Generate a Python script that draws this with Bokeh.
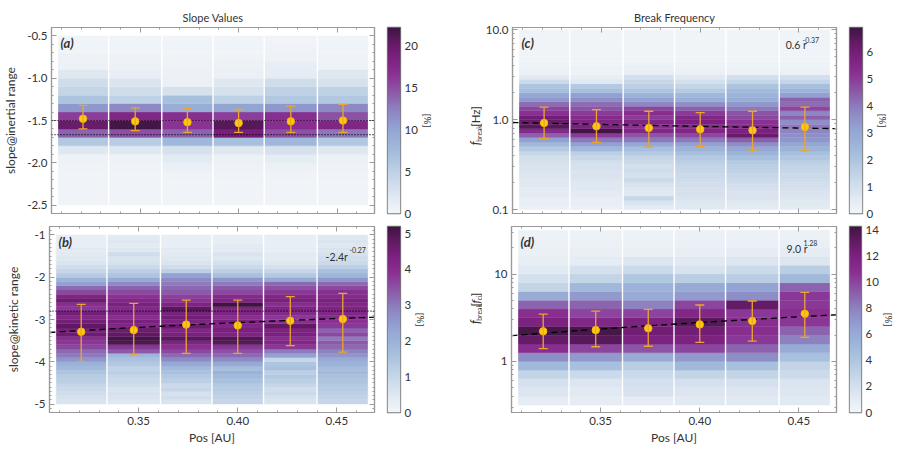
import numpy as np
from bokeh.core.properties import value
from bokeh.embed import file_html
from bokeh.layouts import column, row
from bokeh.models import (ColumnDataSource, FixedTicker, Label, LinearAxis, LinearColorMapper,
                          LogAxis, PrintfTickFormatter, Range1d, Span, TeeHead, Whisker)
from bokeh.plotting import figure
from bokeh.resources import INLINE

# ---------------------------------------------------------------- data
# radial distance bins [AU]
pos_edges = [0.308, 0.334, 0.361, 0.387, 0.413, 0.440, 0.466]

# (a) spectral slope in the inertial range, occurrence [%] per slope bin (bottom -> top)
inertial_edges = [round(-2.5 + 0.1 * k, 2) for k in range(21)]
inertial_hist = [
    [0.3, 0.3, 0.4, 0.4, 0.5, 0.6, 2.0, 6.0, 14, 20, 16, 11, 6.5, 4.5, 3.5, 2.0, 0.8, 0.6, 0.4, 0.3],
    [0.3, 0.3, 0.3, 0.4, 0.5, 0.6, 2.0, 5.5, 15, 22, 18, 12, 5.0, 3.5, 2.5, 1.2, 0.8, 0.6, 0.4, 0.3],
    [0.3, 0.3, 0.4, 0.5, 1.0, 1.8, 3.0, 8.0, 14, 16.5, 17, 9.0, 7.0, 3.0, 1.0, 0.8, 0.6, 0.5, 0.4, 0.3],
    [0.3, 0.3, 0.4, 0.5, 0.6, 0.8, 2.0, 7.0, 19, 21, 16, 10, 5.0, 3.0, 2.0, 1.0, 0.7, 0.5, 0.4, 0.3],
    [0.3, 0.3, 0.4, 0.5, 0.8, 1.5, 3.0, 8.0, 15, 17, 17, 11, 6.0, 5.0, 3.5, 1.5, 1.4, 0.6, 0.5, 0.4],
    [0.3, 0.3, 0.4, 0.5, 0.6, 0.8, 2.0, 6.0, 13, 18, 15, 12, 6.0, 5.0, 3.0, 2.0, 0.6, 0.5, 0.4, 0.3],
]
inertial_mean = [-1.48, -1.51, -1.52, -1.53, -1.51, -1.50]
inertial_upper = [-1.32, -1.35, -1.36, -1.37, -1.33, -1.31]
inertial_lower = [-1.60, -1.62, -1.64, -1.64, -1.64, -1.64]
inertial_ref = [-1.5, -5 / 3]

# (b) spectral slope in the kinetic range
kinetic_edges = [round(-5.0 + 0.1 * k, 2) for k in range(41)]
kinetic_hist = [
    [0.6, 0.7, 0.8, 0.9, 1.0, 1.2, 1.3, 1.5, 1.8, 2.0, 2.6, 3.0, 3.2, 3.6, 3.8, 4.0, 4.6, 4.4, 4.8, 4.5,
     4.2, 4.5, 3.8, 4.0, 4.6, 4.3, 3.6, 3.2, 2.4, 2.0, 1.3, 1.0, 0.8, 0.6, 0.5, 0.4, 0.4, 0.3, 0.3, 0.3],
    [0.5, 0.6, 0.7, 0.6, 0.8, 0.9, 1.0, 1.2, 1.1, 1.4, 1.6, 1.9, 3.4, 3.8, 5.0, 5.1, 4.8, 4.6, 4.2, 4.4,
     4.0, 4.3, 4.1, 4.4, 4.2, 3.9, 3.6, 3.3, 2.8, 2.2, 1.5, 1.2, 0.9, 0.7, 0.6, 0.8, 0.5, 0.4, 0.5, 0.4],
    [0.6, 0.8, 0.7, 1.0, 0.9, 1.2, 1.4, 1.6, 1.8, 2.2, 2.8, 3.2, 3.6, 3.9, 4.3, 4.9, 4.4, 4.2, 4.6, 4.3,
     4.5, 4.4, 4.9, 4.3, 3.9, 3.7, 3.4, 3.2, 3.0, 2.8, 2.4, 1.2, 0.8, 0.6, 0.5, 0.4, 0.4, 0.3, 0.3, 0.3],
    [1.0, 1.1, 1.2, 1.3, 1.4, 1.6, 1.8, 2.0, 1.7, 2.2, 2.8, 3.2, 3.5, 3.8, 4.9, 5.0, 4.3, 4.4, 4.2, 4.4,
     4.0, 4.3, 4.2, 5.2, 4.3, 4.1, 3.6, 3.4, 3.0, 2.6, 1.6, 1.2, 0.9, 0.7, 0.5, 0.6, 0.4, 0.4, 0.3, 0.3],
    [0.6, 0.7, 0.9, 0.8, 1.0, 1.2, 1.4, 1.2, 1.6, 1.5, 1.0, 2.4, 3.0, 3.8, 4.2, 4.0, 4.4, 4.3, 4.8, 4.0,
     3.8, 4.1, 4.3, 4.0, 4.4, 4.2, 3.8, 3.5, 3.2, 2.2, 1.4, 1.0, 0.7, 0.5, 0.4, 0.4, 0.3, 0.3, 0.3, 0.3],
    [1.0, 1.1, 1.2, 1.3, 1.4, 1.5, 1.6, 1.8, 1.7, 2.0, 2.2, 2.6, 2.9, 3.2, 3.4, 3.0, 3.6, 3.3, 3.8, 3.9,
     4.1, 4.2, 4.3, 4.2, 4.4, 4.1, 4.0, 3.6, 3.2, 2.6, 1.9, 1.6, 1.2, 0.9, 0.8, 0.7, 0.6, 0.5, 0.6, 0.5],
]
kinetic_mean = [-3.29, -3.25, -3.12, -3.14, -3.03, -2.99]
kinetic_upper = [-2.64, -2.62, -2.54, -2.54, -2.46, -2.38]
kinetic_lower = [-3.99, -3.84, -3.80, -3.80, -3.62, -3.77]
kinetic_ref = [-2.8]
kinetic_fit = (-2.4, -0.27)

# (c) break frequency [Hz], bins of 0.05 decades from 0.1 to 10 Hz
fbreak_hz_edges = [10 ** (-1.0 + 0.05 * k) for k in range(41)]
fbreak_hz_hist = [
    [0.3, 0.4, 0.4, 0.5, 0.5, 0.6, 0.6, 0.7, 0.8, 0.8, 0.9, 1.0, 1.3, 1.8, 2.4, 3.2, 4.4, 5.4, 6.5, 6.2,
     6.0, 5.2, 4.8, 4.2, 3.4, 3.0, 2.2, 2.0, 1.2, 0.6, 0.3, 0.2, 0.2, 0.1, 0.1, 0.1, 0.1, 0.1, 0.1, 0.1],
    [0.3, 0.4, 0.4, 0.5, 0.6, 0.6, 0.7, 0.8, 0.8, 0.9, 1.0, 1.3, 1.6, 2.4, 3.2, 4.0, 5.0, 6.8, 5.8, 5.6,
     5.4, 5.0, 4.6, 4.2, 3.6, 3.2, 2.2, 1.8, 0.6, 0.4, 0.2, 0.2, 0.1, 0.1, 0.1, 0.1, 0.1, 0.1, 0.1, 0.1],
    [0.5, 0.8, 1.3, 0.6, 0.7, 0.8, 1.2, 0.9, 1.1, 1.0, 1.2, 1.4, 1.8, 2.2, 3.0, 4.0, 4.6, 5.5, 5.2, 5.6,
     5.0, 5.3, 4.8, 3.8, 3.2, 2.6, 2.0, 1.6, 1.3, 1.0, 0.4, 0.3, 0.2, 0.1, 0.1, 0.1, 0.1, 0.1, 0.1, 0.1],
    [0.6, 0.7, 0.8, 0.9, 0.9, 1.0, 1.1, 1.2, 1.3, 1.4, 1.6, 1.8, 2.2, 2.6, 3.2, 4.0, 4.8, 5.6, 5.4, 5.8,
     5.6, 5.0, 4.4, 3.6, 2.8, 2.4, 1.8, 1.4, 1.0, 0.6, 0.3, 0.2, 0.2, 0.1, 0.1, 0.1, 0.1, 0.1, 0.1, 0.1],
    [0.5, 0.6, 0.8, 0.8, 0.9, 1.0, 1.2, 1.3, 1.5, 1.6, 1.8, 2.2, 2.6, 3.0, 3.6, 4.4, 6.2, 5.8, 5.4, 5.2,
     4.8, 4.6, 4.0, 3.4, 2.8, 2.6, 2.4, 2.0, 1.4, 1.0, 0.3, 0.2, 0.2, 0.1, 0.1, 0.1, 0.1, 0.1, 0.1, 0.1],
    [0.5, 0.6, 0.7, 0.8, 0.9, 1.0, 1.1, 1.2, 1.3, 1.4, 1.6, 1.9, 2.2, 2.6, 3.0, 3.4, 3.6, 3.8, 4.0, 3.6,
     4.4, 3.8, 4.8, 4.2, 4.4, 3.2, 2.6, 2.2, 1.4, 1.0, 0.3, 0.2, 0.2, 0.1, 0.1, 0.1, 0.1, 0.1, 0.1, 0.1],
]
fbreak_hz_mean = [0.918, 0.843, 0.808, 0.781, 0.761, 0.829]
fbreak_hz_upper = [1.38, 1.29, 1.24, 1.20, 1.24, 1.38]
fbreak_hz_lower = [0.615, 0.560, 0.493, 0.506, 0.449, 0.449]
fbreak_hz_fit = (0.6, -0.37)

# (d) break frequency normalised to the proton cyclotron frequency, bins of 0.1 decades
fbreak_fci_edges = [10 ** (-0.5 + 0.1 * k) for k in range(21)]
fbreak_fci_hist = [
    [1.0, 1.5, 2.0, 3.0, 5.0, 7.5, 11.0, 13.0, 14.0, 12.0, 11.0, 9.0, 6.0, 3.0, 2.0, 1.2, 0.8, 0.6, 0.5, 0.4],
    [1.0, 1.2, 1.5, 2.5, 4.5, 7.0, 10.0, 13.5, 14.0, 11.5, 10.0, 9.0, 7.0, 5.0, 3.0, 2.0, 1.0, 0.7, 0.5, 0.4],
    [1.0, 1.8, 2.0, 2.5, 3.5, 6.0, 9.5, 12.0, 12.5, 12.0, 10.0, 8.0, 6.0, 5.5, 4.0, 2.5, 1.5, 0.7, 0.5, 0.4],
    [1.2, 1.5, 2.0, 3.0, 5.0, 7.0, 10.0, 12.0, 12.5, 13.5, 11.5, 10.0, 7.0, 6.0, 3.5, 1.8, 1.2, 0.8, 0.6, 0.5],
    [1.2, 1.5, 2.0, 3.0, 4.5, 7.5, 9.0, 10.5, 11.0, 11.0, 10.5, 13.0, 7.5, 6.5, 3.5, 2.5, 1.5, 1.0, 0.6, 0.5],
    [1.2, 1.4, 1.6, 2.5, 3.0, 4.5, 6.0, 8.0, 9.0, 10.5, 11.0, 10.5, 10.5, 9.0, 5.0, 3.5, 1.5, 1.0, 0.7, 0.5],
]
fbreak_fci_mean = [2.21, 2.28, 2.39, 2.65, 2.90, 3.51]
fbreak_fci_upper = [3.48, 3.77, 3.94, 4.42, 4.91, 6.17]
fbreak_fci_lower = [1.40, 1.47, 1.49, 1.65, 1.71, 1.88]
fbreak_fci_fit = (9.0, 1.28)

# colour-bar limits [%] and ticks
cbar_max = {"a": 22.2, "b": 5.2, "c": 6.9, "d": 14.3}
cbar_ticks = {"a": [0, 5, 10, 15, 20], "b": [0, 1, 2, 3, 4, 5],
              "c": [0, 1, 2, 3, 4, 5, 6], "d": [0, 2, 4, 6, 8, 10, 12, 14]}

# ---------------------------------------------------------------- style
FONT = "Lato"
TEXT = "#333333"
FRAME = "#9a9a9a"
ERR = "#eea62a"
DOT = "#ffc90e"
FW, FH = 325, 186
X_RANGE = (0.305, 0.469)
STRIP_W = 32

cmap_stops = [0.0, 0.08, 0.2, 0.33, 0.45, 0.55, 0.65, 0.75, 0.85, 0.93, 1.0]
cmap_hex = ["#f3f6f9", "#e2eaf2", "#c4d5e7", "#a3bddc", "#93a5d3", "#8d86c3",
            "#8c5ba9", "#8a3193", "#7a207d", "#5e1a60", "#3e1542"]


def build_palette(n=256):
    rgb = np.array([[int(h[i:i + 2], 16) for i in (1, 3, 5)] for h in cmap_hex], float)
    t = np.linspace(0, 1, n)
    chans = [np.interp(t, cmap_stops, rgb[:, c]) for c in range(3)]
    return ["#%02x%02x%02x" % (int(round(r)), int(round(g)), int(round(b))) for r, g, b in zip(*chans)]


PALETTE = build_palette()


def frame_to_data(rng, n_px, pos, log):
    lo, hi = rng
    if log:
        a, b = np.log10(lo), np.log10(hi)
        return float(10 ** (a + pos / n_px * (b - a)))
    return float(lo + pos / n_px * (hi - lo))


def style_axis(ax, ticker, fmt=None, labels=True):
    ax.ticker = ticker
    if fmt is not None:
        ax.formatter = fmt
    ax.major_tick_in = 5
    ax.major_tick_out = 0
    ax.minor_tick_in = 2
    ax.minor_tick_out = 0
    ax.major_tick_line_color = FRAME
    ax.minor_tick_line_color = FRAME
    ax.axis_line_color = FRAME
    ax.axis_line_width = 1.2
    ax.major_label_text_font = FONT
    ax.major_label_text_color = TEXT
    if labels:
        ax.major_label_text_font_size = "11.5px"
        ax.major_label_standoff = 4
    else:
        ax.major_label_text_font_size = "1px"
        ax.major_label_text_alpha = 0
        ax.major_label_standoff = 0


def style_label(ax, text, size="12px", style="normal"):
    ax.axis_label = text
    ax.axis_label_text_font = FONT
    ax.axis_label_text_font_size = size
    ax.axis_label_text_font_style = style
    ax.axis_label_text_color = TEXT


def add_text(p, ylog, text, px, py, size, style="normal"):
    rx, ry = p.x_range, p.y_range
    x = frame_to_data((rx.start, rx.end), FW, px, False)
    y = frame_to_data((ry.start, ry.end), FH, py, ylog)
    p.add_layout(Label(x=x, y=y, text=text, text_font=FONT, text_font_size=size,
                       text_font_style=style, text_color=TEXT,
                       text_align="left", text_baseline="alphabetic", level="overlay"))


def hist_panel(key, title, edges, hist, mean, upper, lower, y_range, ylog, y_major, y_minor, y_fmt,
               top, bottom, left, x_labels):
    mapper = LinearColorMapper(palette=PALETTE, low=0, high=cbar_max[key])
    p = figure(width=left + FW + 7, height=top + FH + bottom,
               x_range=Range1d(*X_RANGE), y_range=Range1d(*y_range),
               y_axis_type="log" if ylog else "linear",
               min_border_left=left, min_border_right=7, min_border_top=top, min_border_bottom=bottom,
               toolbar_location=None, output_backend="svg")
    p.grid.visible = False
    p.outline_line_color = FRAME
    p.outline_line_width = 1.2
    p.background_fill_color = "white"
    p.border_fill_color = "white"
    if title:
        p.title.text = title
        p.title.align = "center"
        p.title.text_font = FONT
        p.title.text_font_size = "11px"
        p.title.text_font_style = "normal"
        p.title.text_color = TEXT
        p.title.standoff = 7

    # 2-D histogram cells
    cells = dict(l=[], r=[], b=[], t=[], v=[])
    for j, col in enumerate(hist):
        for i, v in enumerate(col):
            cells["l"].append(pos_edges[j])
            cells["r"].append(pos_edges[j + 1])
            cells["b"].append(edges[i])
            cells["t"].append(edges[i + 1])
            cells["v"].append(v)
    p.quad(left="l", right="r", bottom="b", top="t", source=ColumnDataSource(cells),
           fill_color={"field": "v", "transform": mapper},
           line_color={"field": "v", "transform": mapper}, line_width=0.4)
    # white separators between the distance bins
    p.segment(x0=pos_edges, x1=pos_edges, y0=[edges[0]] * len(pos_edges),
              y1=[edges[-1]] * len(pos_edges), line_color="white", line_width=1.4)

    # mean +/- one standard deviation
    centers = [(pos_edges[j] + pos_edges[j + 1]) / 2 for j in range(len(mean))]
    src = ColumnDataSource(dict(x=centers, m=mean, hi=upper, lo=lower))
    p.add_layout(Whisker(source=src, base="x", upper="hi", lower="lo", line_color=ERR, line_width=1.3,
                         level="overlay",
                         upper_head=TeeHead(size=9, line_color=ERR, line_width=1.3),
                         lower_head=TeeHead(size=9, line_color=ERR, line_width=1.3)))
    pts = p.scatter("x", "m", source=src, size=7.5, fill_color=DOT, line_color="#f2b600", line_width=1)
    pts.level = "overlay"

    # axes: labelled left/bottom, mirrored inward ticks on top/right
    bottom_ax, left_ax = p.below[0], p.left[0]
    x_ticker = FixedTicker(ticks=[0.35, 0.40, 0.45],
                           minor_ticks=[round(0.31 + 0.01 * k, 2) for k in range(16)])
    y_ticker = FixedTicker(ticks=y_major, minor_ticks=y_minor)
    style_axis(bottom_ax, x_ticker, PrintfTickFormatter(format="%.2f"), labels=x_labels)
    style_axis(left_ax, y_ticker, y_fmt, labels=True)
    top_ax = LinearAxis()
    style_axis(top_ax, x_ticker, labels=False)
    p.add_layout(top_ax, "above")
    right_ax = LogAxis() if ylog else LinearAxis()
    style_axis(right_ax, y_ticker, labels=False)
    p.add_layout(right_ax, "right")
    if x_labels:
        style_label(bottom_ax, "Pos [AU]")
        bottom_ax.axis_label_standoff = 2
    return p, mapper, left_ax


def fit_line(p, coef, expo):
    xs = np.linspace(X_RANGE[0], X_RANGE[1], 80)
    p.line(xs, coef * xs ** expo, line_color="black", line_width=1.3, line_dash="6 4")


def ref_lines(p, levels):
    for lv in levels:
        p.add_layout(Span(location=lv, dimension="width", line_color="black",
                          line_width=1.2, line_dash="1 2"))


def colorbar_fig(key, mapper, top, bottom, right):
    vmax = cbar_max[key]
    cb = figure(width=6 + 13 + right, height=top + FH + bottom,
                x_range=Range1d(0, 1), y_range=Range1d(0, vmax),
                x_axis_location=None, y_axis_location=None,
                min_border_left=6, min_border_right=right, min_border_top=top, min_border_bottom=bottom,
                toolbar_location=None, output_backend="svg")
    cb.grid.visible = False
    cb.outline_line_color = "#7a7a7a"
    cb.outline_line_width = 1.3
    cb.image(image=[np.linspace(0, vmax, 256).reshape(-1, 1)], x=0, y=0, dw=1, dh=vmax,
             color_mapper=mapper)
    ax = LinearAxis(ticker=FixedTicker(ticks=cbar_ticks[key]))
    ax.major_tick_in = 0
    ax.major_tick_out = 0
    ax.minor_tick_in = 0
    ax.minor_tick_out = 0
    ax.axis_line_color = None
    ax.major_label_text_font = FONT
    ax.major_label_text_font_size = "11.5px"
    ax.major_label_text_color = TEXT
    ax.major_label_standoff = 4
    style_label(ax, "[%]", size="10px")
    ax.axis_label_standoff = 1
    cb.add_layout(ax, "right")
    return cb


def title_strip(height, pieces):
    """Narrow canvas with a vertical axis title built from normal and subscript runs.

    Each piece is (text, baseline x, start y, font size, font style) in pixels of this canvas.
    """
    s = figure(width=STRIP_W, height=height, x_range=Range1d(0, STRIP_W), y_range=Range1d(0, height),
               x_axis_location=None, y_axis_location=None, min_border=0,
               toolbar_location=None, output_backend="svg")
    s.grid.visible = False
    s.outline_line_color = None
    for text, x, y, size, style in pieces:
        s.text(x=[x], y=[y], text=[text], angle=90, angle_units="deg", text_font=value(FONT),
               text_font_size=value(size), text_font_style=value(style), text_color=TEXT,
               text_align="left", text_baseline="alphabetic")
    return s


# ---------------------------------------------------------------- panels
pa, ma, pa_left = hist_panel("a", "Slope Values", inertial_edges, inertial_hist, inertial_mean,
                             inertial_upper, inertial_lower, (-2.6, -0.4), False,
                             [-2.5, -2.0, -1.5, -1.0, -0.5], [round(-2.6 + 0.1 * k, 2) for k in range(23)],
                             PrintfTickFormatter(format="%.1f"), 27, 6, 49, False)
ref_lines(pa, inertial_ref)
style_label(pa_left, "slope@inertial range")
pa_left.axis_label_standoff = 6

pb, mb, pb_left = hist_panel("b", None, kinetic_edges, kinetic_hist, kinetic_mean, kinetic_upper,
                             kinetic_lower, (-5.2, -0.8), False, [-5, -4, -3, -2, -1],
                             [round(-5.2 + 0.1 * k, 2) for k in range(45)],
                             PrintfTickFormatter(format="%d"), 7, 38, 49, True)
ref_lines(pb, kinetic_ref)
fit_line(pb, *kinetic_fit)
style_label(pb_left, "slope@kinetic range")
pb_left.axis_label_standoff = 11

log_minor_c = [m * 10.0 ** e for e in (-1, 0) for m in range(2, 10)]
pc, mc, _ = hist_panel("c", "Break Frequency", fbreak_hz_edges, fbreak_hz_hist, fbreak_hz_mean,
                       fbreak_hz_upper, fbreak_hz_lower, (0.0903, 10.6), True, [0.1, 1, 10], log_minor_c,
                       PrintfTickFormatter(format="%.1f"), 27, 6, 29, False)
pc.title.offset = 11
fit_line(pc, *fbreak_hz_fit)

log_minor_d = [m * 10.0 ** e for e in (-1, 0, 1) for m in range(2, 10)]
pd_, md, _ = hist_panel("d", None, fbreak_fci_edges, fbreak_fci_hist, fbreak_fci_mean, fbreak_fci_upper,
                        fbreak_fci_lower, (0.26, 35.0), True, [1, 10], log_minor_d,
                        PrintfTickFormatter(format="%d"), 7, 38, 29, True)
fit_line(pd_, *fbreak_fci_fit)

# panel letters and fitted power laws
for p, lg, letter in ((pa, False, "(a)"), (pb, False, "(b)"), (pc, True, "(c)"), (pd_, True, "(d)")):
    add_text(p, lg, letter, 9, 171, "13px", style="bold italic")

add_text(pb, False, "-2.4r", 276, 156, "10.5px")
add_text(pb, False, "-0.27", 300, 163, "7px")
add_text(pc, True, "0.6 r", 274, 169, "10.5px")
add_text(pc, True, "-0.37", 291, 174, "7px")
add_text(pd_, True, "9.0 r", 275, 164, "10.5px")
add_text(pd_, True, "1.28", 292, 170, "7px")

# y-axis titles of the frequency panels
strip_c = title_strip(27 + FH + 6, [
    ("f", 25, 80.5, "12.5px", "italic"),
    ("break", 28.5, 84.5, "6.8px", "normal"),
    ("[Hz]", 25, 102, "11.5px", "normal"),
])
strip_d = title_strip(7 + FH + 38, [
    ("f", 25, 110, "12.5px", "italic"),
    ("break", 28.5, 114, "6.8px", "normal"),
    ("[", 25, 131.5, "11.5px", "normal"),
    ("f", 25, 135.5, "12px", "italic"),
    ("ci", 28.5, 139.5, "6.8px", "normal"),
    ("]", 25, 144.5, "11.5px", "normal"),
])

cba = colorbar_fig("a", ma, 27, 6, 50)
cbb = colorbar_fig("b", mb, 7, 38, 50)
cbc = colorbar_fig("c", mc, 27, 6, 35)
cbd = colorbar_fig("d", md, 7, 38, 35)

layout = column(row(pa, cba, strip_c, pc, cbc), row(pb, cbb, strip_d, pd_, cbd))
open("out.html", "w").write(file_html(layout, INLINE))
